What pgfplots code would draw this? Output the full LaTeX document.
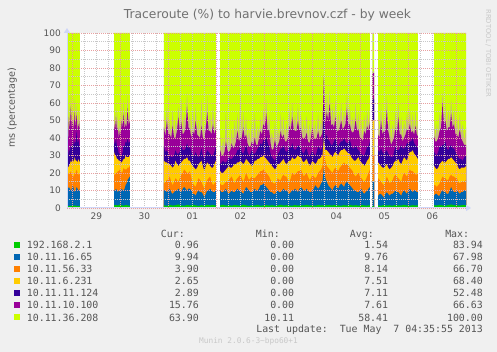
\documentclass[border=0pt]{standalone}
\usepackage{fontspec}
\setmainfont{DejaVu Sans}
\newfontfamily\monof{DejaVu Sans Mono}
\usepackage{pgfplots}
\usepackage{pgfplotstable}
\pgfplotsset{compat=1.18}
\usetikzlibrary{arrows.meta}

\definecolor{bg}{HTML}{F0F0F0}
\definecolor{ttl}{HTML}{707070}
\definecolor{txt}{HTML}{555555}
\definecolor{cG}{HTML}{00CC00}
\definecolor{cB}{HTML}{0066B3}
\definecolor{cO}{HTML}{FF8000}
\definecolor{cY}{HTML}{FFCC00}
\definecolor{cI}{HTML}{330099}
\definecolor{cP}{HTML}{990099}
\definecolor{cL}{HTML}{CCFF00}
\definecolor{haze}{RGB}{198,192,118}
\definecolor{majg}{RGB}{232,160,160}
\definecolor{ming}{RGB}{200,200,200}
\definecolor{axc}{RGB}{207,214,248}
\definecolor{faint}{RGB}{200,200,200}

\pgfplotstableread{
x G B O Y I P H L
-0.11 0 0 0 0 0 0 0 0
-0.11 1.2 11 19 23 28 40 46 100
-0.09 1.1 11 19 23 29 36 38 100
-0.07 1.0 12 20 24 34 52 62 100
-0.05 1.2 11 20 25 32 45 47 100
-0.03 1.3 10 21 27 36 58 66 100
-0.01 1.2 11 19 26 34 46 48 100
0.01 1.1 13 18 28 40 50 58 100
0.03 1.3 11 18 26 35 44 46 100
0.05 1.5 9 20 29 38 55 63 100
0.07 1.3 10 20 27 37 46 48 100
0.09 1.2 12 22 27 44 54 60 100
0.11 1.1 11 20 26 37 44 46 100
0.13 1.0 10 19 28 39 48 56 100
0.145 1.2 10 19 26 35 44 46 100
0.16 1.3 11 20 27 36 50 55 100
0.16 0 0 0 0 0 0 0 0
0.87 0 0 0 0 0 0 0 0
0.87 1.5 10 19 32 38 48 54 100
0.89 1.6 10 19 30 36 44 46 100
0.91 1.8 11 20 30 40 52 60 100
0.93 1.5 10 20 28 35 44 46 100
0.95 1.4 9 21 28 34 46 55 100
0.97 1.7 10 21 27 31 40 42 100
0.99 2.0 10 22 27 31 44 52 100
1.01 1.8 10 21 26 30 42 44 100
1.03 1.6 11 20 26 30 50 58 100
1.05 1.4 10 21 27 32 46 48 100
1.07 1.3 10 23 28 36 54 62 100
1.09 1.5 11 22 28 35 45 47 100
1.11 1.7 13 22 30 38 48 56 100
1.13 1.6 14 22 29 37 46 48 100
1.15 1.5 16 23 29 40 57 64 100
1.175 1.4 17 23 29 37 47 49 100
1.20 1.4 18 24 30 38 50 56 100
1.20 0 0 0 0 0 0 0 0
1.91 0 0 0 0 0 0 0 0
1.91 1.5 10 14 27 35 46 54 100
1.94 1.4 10 15 26 32 41 43 100
1.97 1.2 9 16 26 33 50 58 100
2.00 1.5 10 16 25 31 42 44 100
2.03 1.8 11 18 25 30 42 50 100
2.06 1.6 9 15 24 29 40 42 100
2.09 1.4 8 13 23 29 47 56 100
2.12 1.5 9 15 24 30 40 42 100
2.15 1.6 10 17 27 33 40 50 100
2.18 1.8 10 16 25 31 44 46 100
2.21 2.0 11 15 24 31 52 58 100
2.24 1.7 10 17 25 32 44 46 100
2.27 1.5 9 19 26 36 49 62 100
2.30 1.4 11 20 27 33 42 44 100
2.33 1.3 12 22 28 33 43 54 100
2.36 1.5 11 21 28 34 46 48 100
2.39 1.7 10 20 29 37 58 66 100
2.42 1.6 11 20 27 34 46 48 100
2.45 1.4 11 21 27 35 45 54 100
2.48 1.6 10 17 25 32 40 42 100
2.51 1.9 8 14 24 30 44 57 100
2.54 1.7 8 13 23 30 42 44 100
2.57 1.5 7 12 22 32 50 58 100
2.60 1.4 9 15 23 30 42 44 100
2.63 1.2 10 17 25 29 41 50 100
2.66 1.4 9 16 26 31 40 42 100
2.69 1.6 9 15 27 34 47 62 100
2.72 1.5 8 13 24 30 40 42 100
2.75 1.3 6 11 21 28 39 48 100
2.78 1.6 8 14 24 31 45 47 100
2.81 1.8 10 16 26 33 55 64 100
2.84 1.6 10 17 25 32 44 46 100
2.87 1.5 11 18 24 31 44 54 100
2.90 1.6 10 15 23 30 42 44 100
2.93 1.7 9 13 23 30 48 59 100
2.96 1.5 9 14 25 32 42 44 100
2.99 1.4 10 15 27 35 46 54 100
2.99 0 0 0 0 0 0 0 0
3.08 0 0 0 0 0 0 0 0
3.08 1.5 10 14 21 25 33 42 100
3.11 1.6 9 13 20 26 30 32 100
3.14 1.8 9 13 20 27 30 40 100
3.17 1.6 10 14 21 26 32 34 100
3.20 1.4 11 15 22 26 38 56 100
3.23 1.5 9 15 23 27 33 35 100
3.26 1.6 8 16 24 29 32 42 100
3.29 1.5 9 17 23 28 33 35 100
3.32 1.3 10 18 23 28 37 46 100
3.35 1.5 9 16 24 29 34 36 100
3.38 1.7 9 14 25 30 35 50 100
3.41 1.6 10 16 25 31 38 40 100
3.44 1.5 11 17 26 33 44 54 100
3.47 1.4 10 18 26 33 38 40 100
3.50 1.4 10 19 27 35 40 66 100
3.53 1.6 9 17 26 32 40 42 100
3.56 1.9 8 15 25 31 46 55 100
3.59 1.7 10 17 26 33 40 42 100
3.62 1.5 12 20 28 36 42 52 100
3.65 1.4 11 18 27 32 37 39 100
3.68 1.2 10 16 26 30 35 46 100
3.71 1.4 9 17 25 31 35 37 100
3.74 1.6 9 18 24 33 38 49 100
3.77 1.5 10 17 25 31 36 38 100
3.80 1.4 11 17 27 31 40 54 100
3.83 1.6 10 18 27 32 36 38 100
3.86 1.8 10 19 28 34 36 47 100
3.89 1.5 11 20 28 35 40 42 100
3.92 1.3 13 21 29 37 44 52 100
3.95 1.4 13 21 29 36 42 44 100
3.98 1.5 14 22 30 39 48 57 100
4.01 1.6 13 21 29 38 46 48 100
4.04 1.7 12 20 28 41 54 62 100
4.07 1.5 11 19 27 37 44 46 100
4.10 1.4 10 18 26 35 45 54 100
4.13 1.5 9 16 25 31 37 39 100
4.16 1.6 9 15 24 29 33 44 100
4.19 1.4 8 14 23 28 34 36 100
4.22 1.3 8 14 22 27 39 50 100
4.25 1.4 9 15 23 29 35 37 100
4.28 1.5 10 17 25 31 36 46 100
4.31 1.6 9 16 25 32 38 40 100
4.34 1.8 9 16 26 34 44 54 100
4.37 1.6 10 18 27 34 40 42 100
4.40 1.4 11 19 28 36 42 52 100
4.43 1.5 10 18 26 33 38 40 100
4.46 1.6 10 18 25 32 38 49 100
4.49 1.5 9 16 26 33 40 42 100
4.52 1.5 8 15 27 35 47 57 100
4.55 1.4 9 17 27 34 44 46 100
4.58 1.3 10 20 29 37 52 60 100
4.61 1.5 10 19 28 34 45 47 100
4.64 1.7 11 19 28 33 44 54 100
4.67 1.5 10 20 29 34 44 46 100
4.70 1.4 9 21 30 36 50 59 100
4.73 1.5 11 21 29 35 44 46 100
4.76 1.6 12 22 29 34 46 55 100
4.79 1.5 11 20 27 32 40 42 100
4.82 1.5 10 18 26 31 40 50 100
4.85 1.6 10 19 27 33 40 42 100
4.88 1.8 11 20 28 34 43 53 100
4.91 1.6 10 18 26 31 38 40 100
4.94 1.4 9 16 24 29 37 48 100
4.97 1.5 9 17 25 31 40 42 100
5.00 1.6 10 19 27 33 46 56 100
5.03 1.5 11 18 26 31 40 42 100
5.06 1.3 13 17 25 30 39 49 100
5.09 1.5 12 18 26 32 40 42 100
5.12 1.7 11 20 28 35 44 54 100
5.15 1.6 12 21 28 34 40 42 100
5.18 1.5 14 22 29 33 41 51 100
5.21 1.6 15 24 30 35 43 45 100
5.24 1.4 23 34 40 60 76 78 100
5.27 1.8 17 27 33 39 48 50 100
5.30 1.5 15 24 33 42 55 66 100
5.33 1.6 13 23 32 39 50 52 100
5.36 1.6 12 22 31 38 60 68 100
5.39 1.5 11 21 30 36 47 49 100
5.42 1.4 10 20 29 36 48 58 100
5.45 1.6 12 22 31 38 46 48 100
5.48 1.7 13 23 32 40 52 62 100
5.51 1.6 12 22 31 37 44 46 100
5.54 1.5 11 21 30 35 44 54 100
5.57 1.4 13 23 32 37 46 48 100
5.60 1.3 14 24 33 38 50 60 100
5.63 1.5 13 25 33 38 45 47 100
5.66 1.6 12 26 34 40 46 56 100
5.69 1.5 14 25 33 38 48 50 100
5.72 1.5 15 25 32 37 57 65 100
5.75 1.6 14 24 31 37 47 49 100
5.78 1.8 13 23 31 39 48 58 100
5.81 1.6 12 22 29 36 44 46 100
5.84 1.4 11 21 28 34 43 52 100
5.87 1.5 10 19 27 34 44 46 100
5.90 1.6 10 18 27 36 51 60 100
5.93 1.5 9 19 28 34 44 46 100
5.96 1.3 9 20 29 33 45 54 100
5.99 1.5 10 18 27 32 40 42 100
6.02 1.7 11 17 26 31 40 50 100
6.05 1.6 9 16 25 30 38 40 100
6.08 1.5 8 15 24 30 44 53 100
6.11 1.4 9 16 25 32 42 44 100
6.14 1.4 10 18 27 35 47 56 100
6.17 1.5 11 20 28 35 44 46 100
6.20 1.6 12 22 30 38 49 57 100
6.20 0 0 0 0 0 0 0 0
6.25 0 0 0 0 0 0 0 0
6.25 1.0 15 30 50 62 77 78 100
6.285 1.0 15 30 50 62 77 78 100
6.285 0 0 0 0 0 0 0 0
6.37 0 0 0 0 0 0 0 0
6.37 1.5 7 17 26 33 42 52 100
6.40 1.4 8 16 25 32 40 42 100
6.43 1.3 8 15 24 34 50 59 100
6.46 1.5 7 14 23 32 42 44 100
6.49 1.8 6 13 23 31 44 54 100
6.52 1.6 8 15 24 32 44 46 100
6.55 1.4 9 18 25 33 56 64 100
6.58 1.5 8 16 23 31 44 46 100
6.61 1.6 7 14 22 30 40 51 100
6.64 1.4 8 15 23 29 36 38 100
6.67 1.3 8 16 24 29 38 48 100
6.70 1.5 9 18 26 32 40 42 100
6.73 1.7 10 19 27 35 46 56 100
6.76 1.6 9 18 27 33 42 44 100
6.79 1.5 9 17 28 33 52 60 100
6.82 1.5 8 16 26 34 42 44 100
6.85 1.4 7 15 25 36 42 52 100
6.88 1.6 9 18 27 34 38 40 100
6.91 1.8 10 20 29 34 40 50 100
6.94 1.6 9 19 28 35 42 44 100
6.97 1.5 8 18 27 37 45 55 100
7.00 1.4 10 20 30 37 44 46 100
7.03 1.3 11 22 32 38 48 57 100
7.06 1.5 10 21 32 38 43 45 100
7.09 1.6 9 21 33 40 44 54 100
7.12 1.5 10 20 31 37 42 44 100
7.15 1.4 10 19 30 36 47 56 100
7.175 1.5 9 19 29 35 42 44 100
7.196 1.5 9 20 28 34 41 50 100
7.196 0 0 0 0 0 0 0 0
7.535 0 0 0 0 0 0 0 0
7.535 1.6 7 13 24 32 41 51 100
7.56 1.5 8 13 23 31 38 40 100
7.59 1.4 8 12 22 30 38 48 100
7.62 1.6 7 13 23 32 40 42 100
7.65 1.8 7 14 25 35 44 54 100
7.68 1.6 9 16 26 35 46 48 100
7.71 1.5 10 18 27 36 60 66 100
7.74 1.4 9 17 26 36 48 50 100
7.77 1.3 9 17 26 38 50 59 100
7.80 1.5 8 16 27 34 44 46 100
7.83 1.7 8 16 28 33 46 56 100
7.86 1.8 10 18 28 35 46 48 100
7.89 2.0 12 19 29 36 54 62 100
7.92 1.7 10 18 28 34 46 48 100
7.95 1.5 9 18 27 34 48 58 100
7.98 1.6 9 17 26 32 42 44 100
8.01 1.6 10 17 25 31 42 52 100
8.04 1.5 9 15 23 29 40 42 100
8.07 1.4 8 14 22 28 45 54 100
8.10 1.5 9 15 23 28 40 42 100
8.13 1.7 9 15 23 27 38 48 100
8.165 1.6 10 15 23 29 36 38 100
8.20 1.5 10 16 24 30 36 46 100
8.20 0 0 0 0 0 0 0 0
}\datatable

\begin{document}
\begin{tikzpicture}
\begin{scope}[x=1pt,y=1pt]
\fill[bg] (0,0) rectangle (497,352);
\end{scope}
\begin{axis}[
  at={(67pt,144pt)}, anchor=south west,
  scale only axis, width=399pt, height=175pt,
  xmin=-0.11, xmax=8.2, ymin=0, ymax=100,
  axis background/.style={fill=white},
  axis on top,
  axis x line*=bottom, axis y line*=left,
  axis line style={draw=axc, line width=1pt},
  x axis line style={-{Triangle[length=5pt,width=6pt]}, shorten >=-5pt},
  y axis line style={-{Triangle[length=5pt,width=6pt]}, shorten >=-5pt},
  ytick={0,10,...,100},
  minor ytick={5,15,...,95},
  ymajorgrids, yminorgrids,
  major grid style={draw=majg, line width=0.8pt, dash pattern=on 1pt off 1pt},
  minor grid style={draw=ming, line width=0.8pt, dash pattern=on 1pt off 1pt},
  xtick={0.5,1.5,2.5,3.5,4.5,5.5,6.5,7.5},
  xticklabels={29,30,01,02,03,04,05,06},
  minor xtick={0.25,0.5,0.75,1.25,1.5,1.75,2.25,2.5,2.75,3.25,3.5,3.75,4.25,4.5,4.75,5.25,5.5,5.75,6.25,6.5,6.75,7.25,7.5,7.75},
  xminorgrids,
  extra x ticks={0,1,2,3,4,5,6,7,8},
  extra x tick labels={},
  extra x tick style={grid=major},
  major tick length=0pt, minor tick length=0pt,
  /pgf/number format/assume math mode=true,
  tick label style={font=\fontsize{9}{9}\selectfont, text=txt},
  yticklabel style={anchor=east, inner sep=0pt, xshift=-6pt},
  xticklabel style={anchor=base, inner sep=0pt, yshift=-11.5pt},
  clip=true,
]
\addplot[fill=cL, draw=none] table[x=x, y=L] {\datatable} \closedcycle;
\addplot[fill=haze, draw=none] table[x=x, y=H] {\datatable} \closedcycle;
\addplot[fill=cP, draw=none] table[x=x, y=P] {\datatable} \closedcycle;
\addplot[fill=cI, draw=none] table[x=x, y=I] {\datatable} \closedcycle;
\addplot[fill=cY, draw=none] table[x=x, y=Y] {\datatable} \closedcycle;
\addplot[fill=cO, draw=none] table[x=x, y=O] {\datatable} \closedcycle;
\addplot[fill=cB, draw=none] table[x=x, y=B] {\datatable} \closedcycle;
\addplot[fill=cG, draw=none] table[x=x, y=G] {\datatable} \closedcycle;
\end{axis}
\begin{scope}[x=1pt,y=1pt]
\node[anchor=base, text=ttl, font=\fontsize{12.3}{12.3}\selectfont, inner sep=0pt] at (267.5,333.7) {Traceroute (\%) to harvie.brevnov.czf - by week};
\node[rotate=90, text=txt, font=\fontsize{9.6}{9.6}\selectfont, inner sep=0pt] at (12.3,244) {ms (percentage)};
\node[rotate=-90, text=faint, font=\fontsize{6.8}{6.8}\selectfont, inner sep=0pt] at (488.3,298.7) {RRDTOOL / TOBI OETIKER};
\begin{scope}[font=\monof\fontsize{9.9}{10}\selectfont, text=txt, every node/.style={inner sep=0pt}]
\node[anchor=base east] at (185,114.4) {Cur:};
\node[anchor=base east] at (280,114.4) {Min:};
\node[anchor=base east] at (374,114.4) {Avg:};
\node[anchor=base east] at (469.3,114.4) {Max:};
\foreach \c/\lab/\cu/\mi/\av/\ma [count=\i from 0] in {
  cG/192.168.2.1/0.96/0.00/1.54/83.94,
  cB/10.11.16.65/9.94/0.00/9.76/67.98,
  cO/10.11.56.33/3.90/0.00/8.14/66.70,
  cY/10.11.6.231/2.65/0.00/7.51/68.40,
  cI/10.11.11.124/2.89/0.00/7.11/52.48,
  cP/10.11.10.100/15.76/0.00/7.61/66.63,
  cL/10.11.36.208/63.90/10.11/58.41/100.00}{
  \pgfmathsetmacro\yy{107-12.07*\i}
  \fill[\c] (14,{\yy-3}) rectangle (20,{\yy+3});
  \node[anchor=base west] at (26.7,{\yy-3.6}) {\lab};
  \node[anchor=base east] at (199,{\yy-3.6}) {\cu};
  \node[anchor=base east] at (294.3,{\yy-3.6}) {\mi};
  \node[anchor=base east] at (388.3,{\yy-3.6}) {\av};
  \node[anchor=base east] at (483,{\yy-3.6}) {\ma};
}
\node[anchor=base east] at (483,19.1) {Last update:\ \ Tue May\ \ 7 04:35:55 2013};
\end{scope}
\node[text=faint, font=\monof\fontsize{7.8}{7.8}\selectfont, inner sep=0pt, anchor=base] at (248.5,8.5) {Munin 2.0.6-3\textasciitilde bpo60+1};
\end{scope}
\pgfresetboundingbox
\path (0pt,0pt) rectangle (497pt,352pt);
\end{tikzpicture}
\end{document}
